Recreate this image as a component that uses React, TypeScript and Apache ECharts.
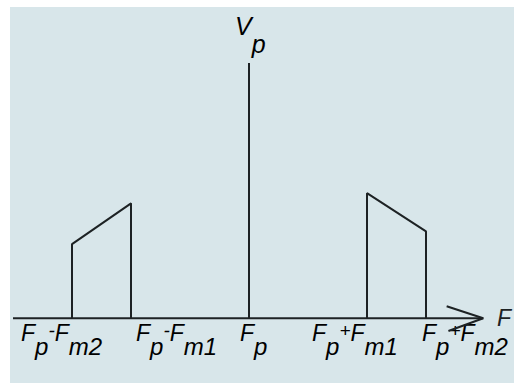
import { useEffect, useRef } from "react";
import * as echarts from "echarts";

// Spectrum of a carrier Fp amplitude-modulated by a band Fm1..Fm2
const carrierLine = [
  [0, 0],
  [0, 1],
];
const lowerSideband = [
  [-3, 0],
  [-3, 0.29],
  [-2, 0.45],
  [-2, 0],
];
const upperSideband = [
  [2, 0],
  [2, 0.49],
  [3, 0.34],
  [3, 0],
];
const frequencyAxis = [
  [-4, 0],
  [3.97, 0],
];
const arrowHead = [
  [3.35, 0.047],
  [3.97, 0],
  [3.38, -0.05],
];

// Tick labels: position on the frequency axis and rich-text pieces
const tickX = [-3, -2, 0, 2, 3];
const tickLabels = [
  "{b|F}{s|p}{o|-}{b|F}{s|m2}",
  "{b|F}{s|p}{o|-}{b|F}{s|m1}",
  "{b|F}{s|p}",
  "{b|F}{s|p}{o|+}{b|F}{s|m1}",
  "{b|F}{s|p}{o|+}{b|F}{s|m2}",
];
const labelShift = [-51, 5, -9, -55, -4];

const INK = "#1d2224";
const PANEL = "#d8e6ea";
const FONT = "'Liberation Sans', Arial, sans-serif";

const richStyles = {
  b: { fontSize: 23, fontStyle: "italic", fontFamily: FONT, color: INK, verticalAlign: "top" },
  s: { fontSize: 24, fontStyle: "italic", fontFamily: FONT, color: INK, verticalAlign: "bottom" },
  o: { fontSize: 19, fontStyle: "italic", fontFamily: FONT, color: INK, verticalAlign: "top" },
};

function lineSeries(data: number[][]) {
  return {
    type: "line",
    data,
    symbol: "none",
    silent: true,
    lineStyle: { color: INK, width: 2 },
  };
}

export default function App() {
  const ref = useRef<HTMLDivElement>(null);

  useEffect(() => {
    if (!ref.current) return;
    const chart = echarts.init(ref.current, undefined, { renderer: "svg" });
    chart.setOption({
      animation: false,
      grid: { left: 13, right: 29, top: 63, bottom: 1 },
      xAxis: { type: "value", min: -4, max: 4, show: false },
      yAxis: { type: "value", min: -0.25, max: 1, show: false },
      series: [
        lineSeries(frequencyAxis),
        lineSeries(arrowHead),
        lineSeries(carrierLine),
        lineSeries(lowerSideband),
        lineSeries(upperSideband),
      ],
    });

    const labels = tickX.map((x, i) => {
      const [px] = chart.convertToPixel({ gridIndex: 0 }, [x, 0]) as number[];
      return {
        type: "text",
        x: px + labelShift[i],
        y: 321,
        silent: true,
        style: {
          text: tickLabels[i],
          rich: richStyles,
          lineHeight: 37,
          align: "left",
          verticalAlign: "top",
        },
      };
    });

    chart.setOption({
      graphic: [
        {
          type: "rect",
          z: -10,
          silent: true,
          shape: { x: 10, y: 7, width: 504, height: 376 },
          style: { fill: PANEL },
        },
        {
          type: "text",
          x: 235,
          y: 13,
          silent: true,
          style: {
            text: "{b|V}{s|p}",
            rich: {
              b: { ...richStyles.b, fontSize: 25 },
              s: { ...richStyles.s, fontSize: 25 },
            },
            lineHeight: 43,
            align: "left",
            verticalAlign: "top",
          },
        },
        {
          type: "text",
          x: 497,
          y: 318,
          silent: true,
          style: {
            text: "F",
            fontSize: 23,
            fontStyle: "italic",
            fontFamily: FONT,
            fill: INK,
            align: "left",
            verticalAlign: "middle",
          },
        },
        ...labels,
      ],
    });

    return () => chart.dispose();
  }, []);

  return (
    <div
      ref={ref}
      style={{ position: "absolute", left: 0, top: 0, width: 514, height: 383, background: "#ffffff" }}
    />
  );
}
